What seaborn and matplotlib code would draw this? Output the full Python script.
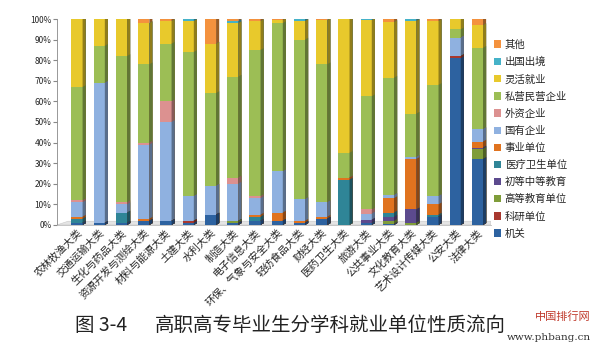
import matplotlib
matplotlib.use("Agg")
import matplotlib.pyplot as plt
import matplotlib.colors as mcolors
from matplotlib.patches import Polygon, Patch
from matplotlib.ticker import FuncFormatter, FixedLocator
import pandas as pd
import seaborn as sns

# categories (x axis)
majors = ["农林牧渔大类", "交通运输大类", "生化与药品大类", "资源开发与测绘大类", "材料与能源大类",
          "土建大类", "水利大类", "制造大类", "电子信息大类", "环保、气象与安全大类", "轻纺食品大类",
          "财经大类", "医药卫生大类", "旅游大类", "公共事业大类", "文化教育大类", "艺术设计传媒大类",
          "公安大类", "法律大类"]

# series, bottom to top (percent)
jiguan     = [1, 1, 1, 2, 2, 1, 5, 1, 2, 2, 1, 3, 0, 1, 0.5, 0, 4, 81, 32]
keyan      = [0, 0, 0, 0, 0, 1, 0, 0, 0, 0, 0, 0, 0, 0, 0, 0, 0, 1, 0]
gaojiao    = [0, 0, 0, 0, 0, 0, 0, 1, 0, 0, 0, 0, 0, 0, 1.5, 1, 0, 0, 5]
chuzhong   = [0, 0, 0, 0, 0, 0, 0, 0, 0, 0, 0, 0, 0, 1.5, 2, 6.5, 0, 0, 0.5]
yiliao     = [2, 0, 5, 0, 0, 0, 0, 0, 2, 0, 0, 0, 22, 0, 2, 0, 1, 0, 0]
shiye      = [1, 0, 0, 1, 0, 0, 0, 0, 1, 4, 1, 1, 1, 0, 7, 24.5, 5, 0, 3]
guoqi      = [7, 68, 4, 36, 48, 12, 14, 18, 8, 20, 10.5, 7, 0, 3, 1.5, 1, 4, 9, 6]
waizi      = [1, 0, 1, 1, 10, 0, 0, 3, 1, 0, 0, 0, 0, 2, 0, 0, 0, 0, 0]
siying     = [55, 18, 71, 38, 28, 70, 45, 49, 71, 72, 77.5, 67, 12, 55, 57, 21, 54, 4, 39.5]
linghuo    = [33, 13, 18, 20, 11, 15, 24, 26, 14, 1.5, 9, 21.5, 65, 37, 27, 45, 31, 5, 11]
chuguo     = [0, 0, 0, 0, 0, 1, 0, 1, 0, 0, 1, 0, 0, 0.5, 0, 1, 0, 0, 0]
qita       = [0, 0, 0, 2, 1, 0, 12, 1, 1, 0.5, 0, 0.5, 0, 0, 1.5, 0, 1, 0, 3]

series_names = ["机关", "科研单位", "高等教育单位", "初等中等教育", "医疗卫生单位", "事业单位",
                "国有企业", "外资企业", "私营民营企业", "灵活就业", "出国出境", "其他"]
series_vals = [jiguan, keyan, gaojiao, chuzhong, yiliao, shiye,
               guoqi, waizi, siying, linghuo, chuguo, qita]
colors = ["#2d62a0", "#a8382f", "#7f9d3a", "#5c4a8e", "#2f8597", "#e0731f",
          "#8fb1e0", "#dc9190", "#9cbe55", "#e8c92c", "#45b2c8", "#f4923e"]

df = pd.DataFrame({name: vals for name, vals in zip(series_names, series_vals)})
df["major"] = majors
cum = df[series_names].cumsum(axis=1)

sns.set_style("white")
plt.rcParams["font.family"] = ["Noto Sans CJK SC", "DejaVu Sans"]

fig = plt.figure(figsize=(6, 3.52), dpi=100)
ax = fig.add_axes([0.095, 0.361, 0.723, 0.585])

bw = 0.5
dx, dy = 0.14, 0.9

# light grey floor under the bars
ax.add_patch(Polygon([(-0.9, 0), (-0.4, 1.8), (18.6, 1.8), (18.6, 0)], closed=True,
                     facecolor="#e4e4e4", edgecolor="#c8c8c8", linewidth=0.4, zorder=0))

first = True
# draw from the top layer down so each shorter layer covers the one above
for name, col in reversed(list(zip(series_names, colors))):
    tmp = pd.DataFrame({"major": majors, "v": cum[name].values})
    n_before = len(ax.patches)
    sns.barplot(data=tmp, x="major", y="v", color=col, saturation=1, width=bw,
                linewidth=0, ax=ax, order=majors)
    dark = tuple(c * 0.62 for c in mcolors.to_rgb(col))
    for p in list(ax.patches[n_before:]):
        x0, w, h = p.get_x(), p.get_width(), p.get_height()
        x1 = x0 + w
        ax.add_patch(Polygon([(x1, 0), (x1 + dx, dy), (x1 + dx, h + dy), (x1, h)],
                             closed=True, facecolor=dark, edgecolor="none"))
        if first:
            ax.add_patch(Polygon([(x0, h), (x0 + dx, h + dy), (x1 + dx, h + dy), (x1, h)],
                                 closed=True, facecolor=tuple(c * 0.8 for c in mcolors.to_rgb(col)),
                                 edgecolor="none"))
    first = False

ax.set_xlim(-0.9, 18.6)
ax.set_ylim(0, 100)
ax.set_xlabel("")
ax.set_ylabel("")
ax.yaxis.set_major_locator(FixedLocator(range(0, 101, 10)))
ax.yaxis.set_major_formatter(FuncFormatter(lambda v, _: f"{int(v)}%"))
ax.tick_params(axis="y", labelsize=6, length=3, pad=1, left=True, color="#888888")
ax.tick_params(axis="x", labelsize=7.5, length=0, pad=2)
plt.setp(ax.get_xticklabels(), rotation=45, ha="right", rotation_mode="anchor")
for s in ["top", "right"]:
    ax.spines[s].set_visible(False)
ax.spines["left"].set_color("#888888")
ax.spines["left"].set_linewidth(0.6)
ax.spines["bottom"].set_color("#bbbbbb")
ax.spines["bottom"].set_linewidth(0.6)

handles = [Patch(facecolor=c, edgecolor="none", label=n)
           for n, c in reversed(list(zip(series_names, colors)))]
fig.legend(handles=handles, loc="center left", bbox_to_anchor=(0.815, 0.605),
           frameon=False, fontsize=7.5, handlelength=0.7, handleheight=0.7,
           handletextpad=0.3, labelspacing=0.68, borderpad=0)

fig.text(0.125, 0.075, "图 3-4", fontsize=14, ha="left", va="center", color="#222222")
fig.text(0.258, 0.075, "高职高专毕业生分学科就业单位性质流向", fontsize=14,
         ha="left", va="center", color="#222222")
fig.text(0.985, 0.1, "中国排行网", fontsize=8, ha="right", va="center", color="#c0392b")
fig.text(0.985, 0.04, "www.phbang.cn", fontsize=7.5, ha="right", va="center",
         family="DejaVu Serif", color="#333333")

plt.savefig("out.png", dpi=100)
